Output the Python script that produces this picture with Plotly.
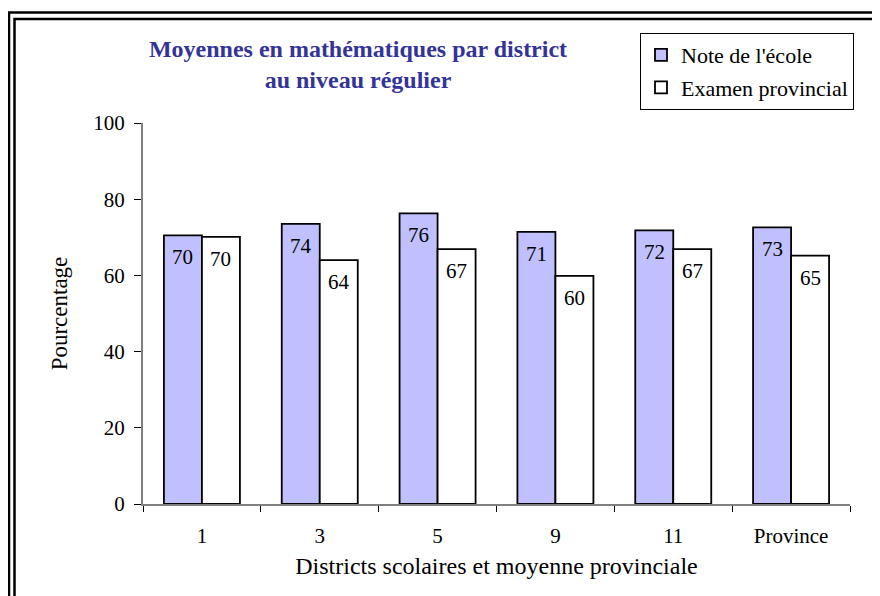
import plotly.graph_objects as go

# ---- data ----
categories = ["1", "3", "5", "9", "11", "Province"]
ecole = [70.5, 73.5, 76.3, 71.4, 71.8, 72.6]
examen = [70.1, 64.0, 66.9, 59.9, 66.9, 65.2]
ecole_labels = ["70", "74", "76", "71", "72", "73"]
examen_labels = ["70", "64", "67", "60", "67", "65"]
yticks = [0, 20, 40, 60, 80, 100]

series_names = ["Note de l'école", "Examen provincial"]
title_text = "Moyennes en mathématiques par district<br>au niveau régulier"
xtitle = "Districts scolaires et moyenne provinciale"
ytitle = "Pourcentage"

# ---- layout geometry (page body adds an 8 px offset) ----
FW, FH = 880, 596
OFF = 8
W, H = 707, 381
L, T = 143 - OFF, 123 - OFF
R = FW - L - W
B = FH - T - H
BARGAP = 0.355
FONT = "Liberation Serif"


def px_x(px):
    # window pixel -> paper coordinate
    return (px - OFF - L) / W


def px_y(py):
    return (T + H - (py - OFF)) / H


bar_px = (1 - BARGAP) * W / len(categories) / 2

fig = go.Figure()
fig.add_trace(go.Bar(
    x=categories, y=ecole, name=series_names[0], legendgroup="a",
    marker=dict(color="#C0C0FF", line=dict(color="#000000", width=1.8)),
    hoverinfo="y",
))
fig.add_trace(go.Bar(
    x=categories, y=examen, name=series_names[1], legendgroup="b",
    marker=dict(color="#FFFFFF", line=dict(color="#000000", width=1.8)),
    hoverinfo="y",
))

annotations = []
for i, (v, t) in enumerate(zip(ecole, ecole_labels)):
    annotations.append(dict(x=i, y=v, text=t, showarrow=False, xref="x", yref="y",
                            xshift=-bar_px / 2, yshift=-22, yanchor="middle",
                            font=dict(family=FONT, size=21, color="#000")))
for i, (v, t) in enumerate(zip(examen, examen_labels)):
    annotations.append(dict(x=i, y=v, text=t, showarrow=False, xref="x", yref="y",
                            xshift=bar_px / 2, yshift=-22, yanchor="middle",
                            font=dict(family=FONT, size=21, color="#000")))

shapes = [
    dict(type="rect", xref="paper", yref="paper",
         x0=px_x(9), x1=px_x(FW + 30), y0=px_y(12.5), y1=px_y(FH + 30),
         line=dict(color="#000", width=2.5), fillcolor="rgba(0,0,0,0)"),
    dict(type="rect", xref="paper", yref="paper",
         x0=px_x(14.5), x1=px_x(FW + 24), y0=px_y(19), y1=px_y(FH + 24),
         line=dict(color="#000", width=2.5), fillcolor="rgba(0,0,0,0)"),
]

fig.update_layout(
    template="none",
    width=FW, height=FH,
    margin=dict(l=L, r=R, t=T, b=B, pad=0, autoexpand=False),
    paper_bgcolor="white", plot_bgcolor="white",
    barmode="group", bargap=BARGAP, bargroupgap=0,
    font=dict(family=FONT, size=20, color="#000"),
    title=dict(text=title_text, x=350 / FW, xref="container", xanchor="center",
               y=1 - 49 / FH, yref="container", yanchor="middle",
               font=dict(family=FONT, size=24, color="#333399", weight="bold")),
    legend=dict(x=(640 - OFF) / FW, y=1 - (33 - OFF) / FH, xref="container", yref="container",
                xanchor="left", yanchor="top",
                bgcolor="white", bordercolor="#000", borderwidth=1,
                font=dict(family=FONT, size=22, color="#000"),
                tracegroupgap=1, traceorder="grouped"),
    xaxis=dict(type="category", categoryorder="array", categoryarray=categories,
               range=[-0.5, len(categories) - 0.5], automargin=False,
               showline=True, linecolor="#808080", linewidth=2,
               ticks="outside", ticklen=6, tickwidth=1, tickcolor="#000",
               tickson="boundaries", showgrid=False, zeroline=False,
               layer="below traces", ticklabelstandoff=12,
               tickfont=dict(family=FONT, size=21, color="#000"),
               title=dict(text=xtitle, font=dict(family=FONT, size=24, color="#000"), standoff=10)),
    yaxis=dict(range=[0, 100], tickvals=yticks, showline=True, linecolor="#808080",
               linewidth=2, ticks="outside", ticklen=7, tickwidth=1, tickcolor="#000",
               showgrid=False, zeroline=False, ticklabelstandoff=5, automargin=False,
               tickfont=dict(family=FONT, size=21, color="#000"),
               title=dict(text=ytitle, font=dict(family=FONT, size=23, color="#000"), standoff=19)),
    xaxis2=dict(overlaying="x", anchor="y", type="linear",
                range=[-0.5, len(categories) - 0.5],
                tickvals=[i - 0.5 for i in range(len(categories) + 1)],
                ticks="inside", ticklen=6, tickwidth=1, tickcolor="#000",
                showticklabels=False, showgrid=False, zeroline=False, showline=False),
    yaxis2=dict(overlaying="y", anchor="x", side="left", range=[0, 100], tickvals=yticks,
                ticks="inside", ticklen=7, tickwidth=1, tickcolor="#000",
                showticklabels=False, showgrid=False, zeroline=False, showline=False),
    annotations=annotations,
    shapes=shapes,
)

fig.write_html("out.html")
